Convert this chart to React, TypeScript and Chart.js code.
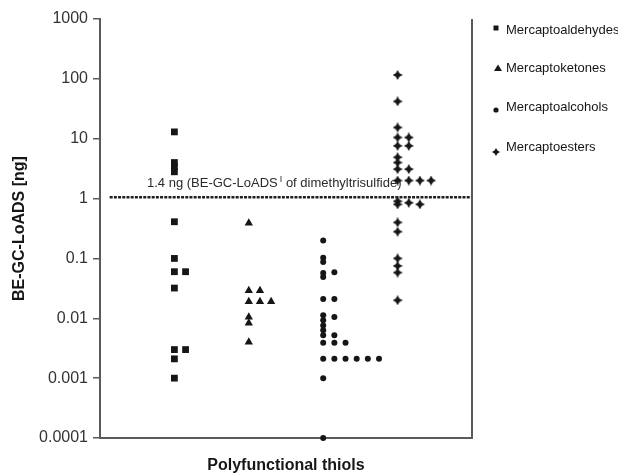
import React, { useEffect, useRef } from 'react';
import { Chart, registerables } from 'chart.js';

Chart.register(...registerables);

// ---------- data ----------
const SERIES_NAMES = ['Mercaptoaldehydes', 'Mercaptoketones', 'Mercaptoalcohols', 'Mercaptoesters'];
const GROUPS = [1, 2, 3, 4];
const COL_STEP = 0.15;
const Y_TICKS = [0.0001, 0.001, 0.01, 0.1, 1, 10, 100, 1000];

const ALDEHYDE_VALUES = [13, 4.0, 3.4, 2.8, 0.41, 0.1, 0.06, 0.06, 0.032, 0.003, 0.003, 0.0021, 0.001];
const ALDEHYDE_COLUMNS = [0, 0, 0, 0, 0, 0, 0, 1, 0, 0, 1, 0, 0];

const KETONE_VALUES = [0.39, 0.029, 0.029, 0.019, 0.019, 0.019, 0.0105, 0.0083, 0.004];
const KETONE_COLUMNS = [0, 0, 1, 0, 1, 2, 0, 0, 0];

const ALCOHOL_VALUES = [
  0.2, 0.103, 0.087, 0.057, 0.049, 0.059, 0.021, 0.021,
  0.0112, 0.0093, 0.0076, 0.0063, 0.0052, 0.0039,
  0.0105, 0.0052, 0.0039, 0.0039,
  0.0021, 0.0021, 0.0021, 0.0021, 0.0021, 0.0021,
  0.001, 0.0001,
];
const ALCOHOL_COLUMNS = [
  0, 0, 0, 0, 0, 1, 0, 1,
  0, 0, 0, 0, 0, 0,
  1, 1, 1, 2,
  0, 1, 2, 3, 4, 5,
  0, 0,
];

const ESTER_VALUES = [
  116, 42, 15.4, 10.5, 10.5, 7.6, 7.6, 4.9, 4.0, 3.1, 3.1,
  2.0, 2.0, 2.0, 2.0, 0.9, 0.8, 0.85, 0.8,
  0.4, 0.28, 0.1, 0.075, 0.058, 0.02,
];
const ESTER_COLUMNS = [
  0, 0, 0, 0, 1, 0, 1, 0, 0, 0, 1,
  0, 1, 2, 3, 0, 0, 1, 2,
  0, 0, 0, 0, 0, 0,
];

const LOD_VALUE = 1.05;
const LOD_X_RANGE = [0.13, 5];
const LOD_LABEL_MAIN = '1.4 ng (BE-GC-LoADS';
const LOD_LABEL_SUP = 'I';
const LOD_LABEL_END = ' of dimethyltrisulfide)';

const X_TITLE = 'Polyfunctional thiols';
const Y_TITLE = 'BE-GC-LoADS [ng]';

// ---------- styles ----------
const FONT = '"Liberation Sans", Arial, Helvetica, sans-serif';
const INK = '#161616';
const AXIS = '#5a5a5a';

function toPoints(values: number[], cols: number[], group: number) {
  return values.map((v, i) => ({ x: group + cols[i] * COL_STEP, y: v }));
}

function makeStar(size: number, color: string) {
  const c = document.createElement('canvas');
  c.width = size;
  c.height = size;
  const ctx = c.getContext('2d')!;
  const m = size / 2;
  const R = size / 2;
  const r = size * 0.26;
  ctx.beginPath();
  for (let k = 0; k < 8; k++) {
    const a = -Math.PI / 2 + (k * Math.PI) / 4;
    const rad = k % 2 === 0 ? R : r;
    ctx.lineTo(m + rad * Math.cos(a), m + rad * Math.sin(a));
  }
  ctx.closePath();
  ctx.fillStyle = color;
  ctx.fill();
  return c;
}

export default function App() {
  const canvasRef = useRef<HTMLCanvasElement | null>(null);

  useEffect(() => {
    const canvas = canvasRef.current;
    if (!canvas) return;
    const star = makeStar(10, INK);
    const legendStar = makeStar(8, INK);

    const lodLabelPlugin = {
      id: 'lodLabel',
      beforeDatasetsDraw(chart: any) {
        const { ctx, chartArea, scales } = chart;
        const y = scales.y.getPixelForValue(LOD_VALUE) - 14;
        let x = chartArea.left + 47;
        ctx.save();
        ctx.fillStyle = '#2a2a2a';
        ctx.textBaseline = 'middle';
        ctx.textAlign = 'left';
        ctx.font = `13px ${FONT}`;
        ctx.fillText(LOD_LABEL_MAIN, x, y);
        x += ctx.measureText(LOD_LABEL_MAIN).width + 2;
        ctx.font = `9px ${FONT}`;
        ctx.fillText(LOD_LABEL_SUP, x, y - 4);
        x += ctx.measureText(LOD_LABEL_SUP).width;
        ctx.font = `13px ${FONT}`;
        ctx.fillText(LOD_LABEL_END, x, y);
        ctx.restore();
      },
    };

    const framePlugin = {
      id: 'frameRight',
      afterDatasetsDraw(chart: any) {
        const { ctx, chartArea } = chart;
        ctx.save();
        ctx.strokeStyle = AXIS;
        ctx.lineWidth = 2;
        ctx.beginPath();
        ctx.moveTo(chartArea.right, chartArea.top);
        ctx.lineTo(chartArea.right, chartArea.bottom);
        ctx.stroke();
        ctx.restore();
      },
    };

    const legendPlugin = {
      id: 'sideLegend',
      afterDraw(chart: any) {
        const { ctx, chartArea } = chart;
        const rowsY = [30, 68, 107, 147];
        const markerX = chartArea.right + 24;
        const textX = chartArea.right + 34;
        ctx.save();
        ctx.fillStyle = INK;
        ctx.font = `13px ${FONT}`;
        ctx.textBaseline = 'middle';
        ctx.textAlign = 'left';
        SERIES_NAMES.forEach((name, i) => {
          const cy = rowsY[i];
          ctx.fillStyle = INK;
          if (i === 0) {
            ctx.fillRect(markerX - 2.5, cy - 4.5, 5, 5);
          } else if (i === 1) {
            ctx.beginPath();
            ctx.moveTo(markerX + 2, cy - 3.5);
            ctx.lineTo(markerX + 6, cy + 3);
            ctx.lineTo(markerX - 2, cy + 3);
            ctx.closePath();
            ctx.fill();
          } else if (i === 2) {
            ctx.beginPath();
            ctx.arc(markerX, cy + 3, 2.6, 0, Math.PI * 2);
            ctx.fill();
          } else {
            ctx.drawImage(legendStar, markerX - 4, cy + 1);
          }
          ctx.fillText(name, textX, cy);
        });
        ctx.restore();
      },
    };

    const pointDataset = (label: string, values: number[], cols: number[], group: number, style: any, radius: number) => ({
      type: 'scatter' as const,
      label,
      data: toPoints(values, cols, group),
      pointStyle: style,
      pointRadius: radius,
      pointHoverRadius: radius,
      backgroundColor: INK,
      borderColor: INK,
      borderWidth: 0,
      showLine: false,
      clip: false as any,
    });

    const chart = new Chart(canvas, {
      type: 'scatter',
      data: {
        datasets: [
          {
            type: 'line',
            label: 'LOD',
            data: LOD_X_RANGE.map((x) => ({ x, y: LOD_VALUE })),
            borderColor: '#202020',
            borderWidth: 2.5,
            borderDash: [3, 1.2],
            pointRadius: 0,
            fill: false,
          } as any,
          pointDataset(SERIES_NAMES[0], ALDEHYDE_VALUES, ALDEHYDE_COLUMNS, GROUPS[0], 'rect', 4.8),
          pointDataset(SERIES_NAMES[1], KETONE_VALUES, KETONE_COLUMNS, GROUPS[1], 'triangle', 4.8),
          pointDataset(SERIES_NAMES[2], ALCOHOL_VALUES, ALCOHOL_COLUMNS, GROUPS[2], 'circle', 3),
          pointDataset(SERIES_NAMES[3], ESTER_VALUES, ESTER_COLUMNS, GROUPS[3], star, 5),
        ],
      },
      options: {
        responsive: false,
        animation: false,
        devicePixelRatio: 1,
        layout: { padding: { left: 0, right: 146, top: 19, bottom: 0 } },
        plugins: {
          legend: { display: false },
          tooltip: { enabled: false },
        },
        scales: {
          x: {
            type: 'linear',
            min: 0,
            max: 5,
            afterFit: (s: any) => {
              s.height = 37;
            },
            ticks: { display: false },
            grid: { display: true, drawOnChartArea: false, drawTicks: false },
            border: { display: true, color: AXIS, width: 2 },
            title: {
              display: true,
              text: X_TITLE,
              color: INK,
              font: { family: FONT, size: 16, weight: 'bold' },
              padding: { top: 0, bottom: 0 },
            },
          },
          y: {
            type: 'logarithmic',
            min: 0.0001,
            max: 1000,
            afterBuildTicks: (s: any) => {
              s.ticks = Y_TICKS.map((v) => ({ value: v }));
            },
            afterFit: (s: any) => {
              s.width = 100;
            },
            ticks: {
              autoSkip: false,
              callback: (v: any) => String(v),
              color: '#333',
              font: { family: FONT, size: 16 },
              padding: 5,
            },
            grid: { drawOnChartArea: false, drawTicks: true, tickLength: 7, color: AXIS, lineWidth: 1.5 },
            border: { display: true, color: AXIS, width: 2 },
            title: {
              display: true,
              text: Y_TITLE,
              color: INK,
              font: { family: FONT, size: 16, weight: 'bold' },
              padding: { top: 10, bottom: 0 },
            },
          },
        },
      } as any,
      plugins: [lodLabelPlugin, framePlugin, legendPlugin],
    });

    return () => chart.destroy();
  }, []);

  return (
    <div style={{ position: 'fixed', left: 0, top: 0, width: 618, height: 475, background: '#fff' }}>
      <canvas ref={canvasRef} width={618} height={475} style={{ display: 'block' }} />
    </div>
  );
}
